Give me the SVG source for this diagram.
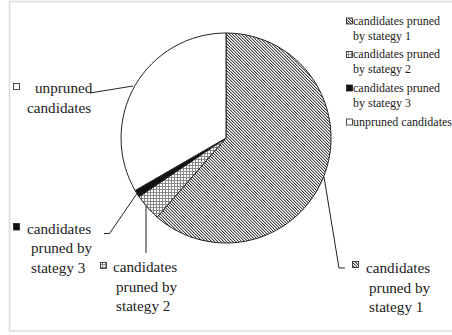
<svg xmlns="http://www.w3.org/2000/svg" width="452" height="335" viewBox="0 0 452 335">
<style>
text{font-family:"Liberation Serif","Times New Roman",serif;fill:#222}
.lbl{font-size:15.2px}
.leg{font-size:12px}
.slice{stroke:#222;stroke-width:1}
.ico{stroke:#222;stroke-width:0.8}
.lead{fill:none;stroke:#222;stroke-width:1}
</style>
<defs>
<pattern id="p1" patternUnits="userSpaceOnUse" width="3" height="3">
<rect width="3" height="3" fill="#fff"/>
<rect x="0" y="0" width="1" height="1" fill="#444"/>
<rect x="1" y="1" width="1" height="1" fill="#444"/>
<rect x="2" y="2" width="1" height="1" fill="#444"/>
<rect x="1" y="0" width="1" height="1" fill="#bbb"/>
<rect x="2" y="1" width="1" height="1" fill="#bbb"/>
<rect x="0" y="2" width="1" height="1" fill="#bbb"/>
</pattern>
<pattern id="p2" patternUnits="userSpaceOnUse" width="3" height="3">
<rect width="3" height="3" fill="#fff"/>
<rect width="3" height="1" fill="#888"/>
<rect width="1" height="3" fill="#888"/>
</pattern>
</defs>
<rect x="9.5" y="1.5" width="450" height="329.5" fill="none" stroke="#dcdcdc" stroke-width="1.5"/>
<g id="pie">
<path id="s1" class="slice" fill="url(#p1)" d="M226,138 L226,33 A105,105 0 1 1 157.1,217.2 Z"/>
<path id="s2" class="slice" fill="url(#p2)" d="M226,138 L157.1,217.2 A105,105 0 0 1 139,196.7 Z"/>
<path id="s3" class="slice" fill="#111" d="M226,138 L139,196.7 A105,105 0 0 1 135.1,190.5 Z"/>
<path id="s4" class="slice" fill="#fff" d="M226,138 L135.1,190.5 A105,105 0 0 1 226,33 Z"/>
</g>
<g id="connectors">
<polyline class="lead" points="90,93 133,86"/>
<polyline class="lead" points="104,233.5 109.5,233.5 137,193.5"/>
<polyline class="lead" points="146,206 146,253"/>
<polyline class="lead" points="324,177 339,268 345,268"/>
</g>
<g id="label-unpruned">
<rect class="ico" x="13.5" y="83.5" width="6" height="6" fill="#fff"/>
<text class="lbl" x="35" y="93">unpruned</text>
<text class="lbl" x="27" y="113">candidates</text>
</g>
<g id="label-s3">
<rect class="ico" x="13.5" y="223.5" width="6" height="6.5" fill="#111"/>
<text class="lbl" x="27" y="234">candidates</text>
<text class="lbl" x="31" y="253">pruned by</text>
<text class="lbl" x="31" y="273">stategy 3</text>
</g>
<g id="label-s2">
<rect class="ico" x="100.5" y="262.5" width="6" height="6" fill="url(#p2)"/>
<text class="lbl" x="113" y="272">candidates</text>
<text class="lbl" x="116" y="292">pruned by</text>
<text class="lbl" x="116" y="311">stategy 2</text>
</g>
<g id="label-s1">
<rect class="ico" x="352.5" y="261.5" width="6" height="6" fill="url(#p1)"/>
<text class="lbl" x="366" y="273">candidates</text>
<text class="lbl" x="369" y="293">pruned by</text>
<text class="lbl" x="369" y="312">stategy 1</text>
</g>
<g id="legend">
<g id="legend-1">
<rect class="ico" x="346.5" y="18" width="6" height="6" fill="url(#p1)"/>
<text class="leg" x="353" y="24.5">candidates pruned</text>
<text class="leg" x="353" y="39.5">by stategy 1</text>
</g>
<g id="legend-2">
<rect class="ico" x="346.5" y="51.5" width="6" height="6" fill="url(#p2)"/>
<text class="leg" x="353" y="58">candidates pruned</text>
<text class="leg" x="353" y="73">by stategy 2</text>
</g>
<g id="legend-3">
<rect class="ico" x="346.5" y="85" width="6" height="6" fill="#111"/>
<text class="leg" x="353" y="91.5">candidates pruned</text>
<text class="leg" x="353" y="106.5">by stategy 3</text>
</g>
<g id="legend-4">
<rect class="ico" x="346.5" y="119" width="6" height="6" fill="#fff"/>
<text class="leg" x="353" y="125.5">unpruned candidates</text>
</g>
</g>
</svg>
